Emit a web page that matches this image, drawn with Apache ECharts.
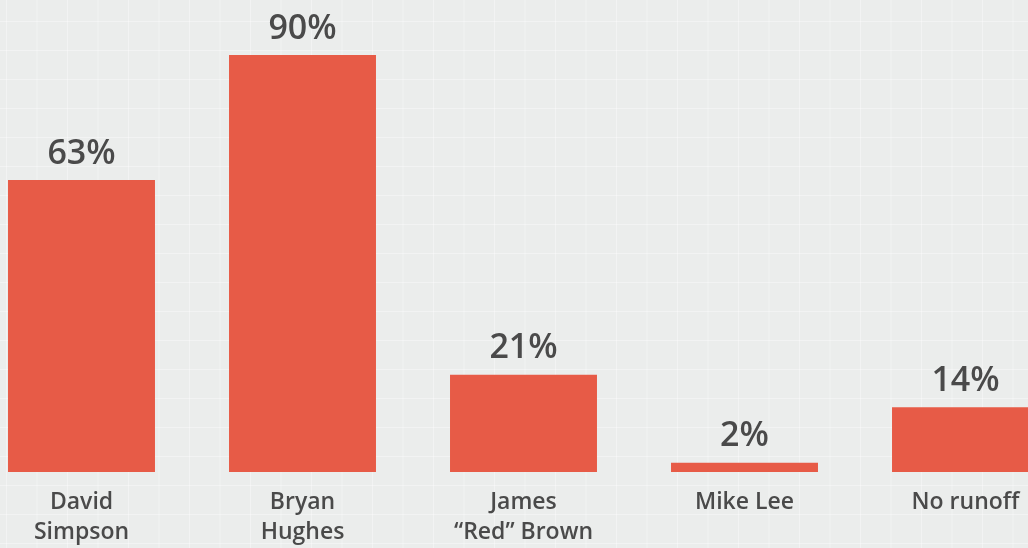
<!DOCTYPE html>
<html>
<head>
<meta charset="utf-8">
<script src="https://cdn.jsdelivr.net/npm/echarts@6/dist/echarts.min.js"></script>
<style>
  html, body { margin: 0; padding: 0; overflow: hidden; }
  #wrap {
    position: relative; overflow: hidden;
    width: 1028px; height: 548px;
    background-color: #ebedec;
    background-image:
      linear-gradient(to right, rgba(255,255,255,0.35) 1px, transparent 1px),
      linear-gradient(to bottom, rgba(255,255,255,0.35) 1px, transparent 1px);
    background-size: 30.5px 29px;
    background-position: 6px 21px;
  }
  #chart { position: absolute; left: -29px; top: 0; width: 1105px; height: 548px; }
</style>
</head>
<body>
<div id="wrap"><div id="chart"></div></div>
<script>
const categories = ['David\nSimpson', 'Bryan\nHughes', 'James\n\u201cRed\u201d Brown', 'Mike Lee', 'No runoff'];
const values = [63, 90, 21, 2, 14];

const chart = echarts.init(document.getElementById('chart'), null, { renderer: 'canvas' });
chart.setOption({
  backgroundColor: 'transparent',
  animation: false,
  grid: { left: 0, right: 0, top: 8.7, bottom: 76, containLabel: false },
  xAxis: {
    type: 'category',
    data: categories,
    axisLine: { show: false },
    axisTick: { show: false },
    axisLabel: {
      interval: 0,
      margin: 15,
      color: '#4a4a4a',
      fontFamily: 'Open Sans',
      fontWeight: 600,
      fontSize: 23,
      lineHeight: 30
    }
  },
  yAxis: {
    type: 'value',
    min: 0, max: 100,
    show: false,
    splitLine: { show: false }
  },
  series: [{
    type: 'bar',
    data: values,
    barWidth: '66.5%',
    itemStyle: { color: '#e75b47' },
    label: {
      show: true,
      position: 'top',
      distance: 9,
      formatter: '{c}%',
      color: '#4a4a4a',
      fontFamily: 'Open Sans',
      fontWeight: 600,
      fontSize: 34
    }
  }]
});
</script>
</body>
</html>
